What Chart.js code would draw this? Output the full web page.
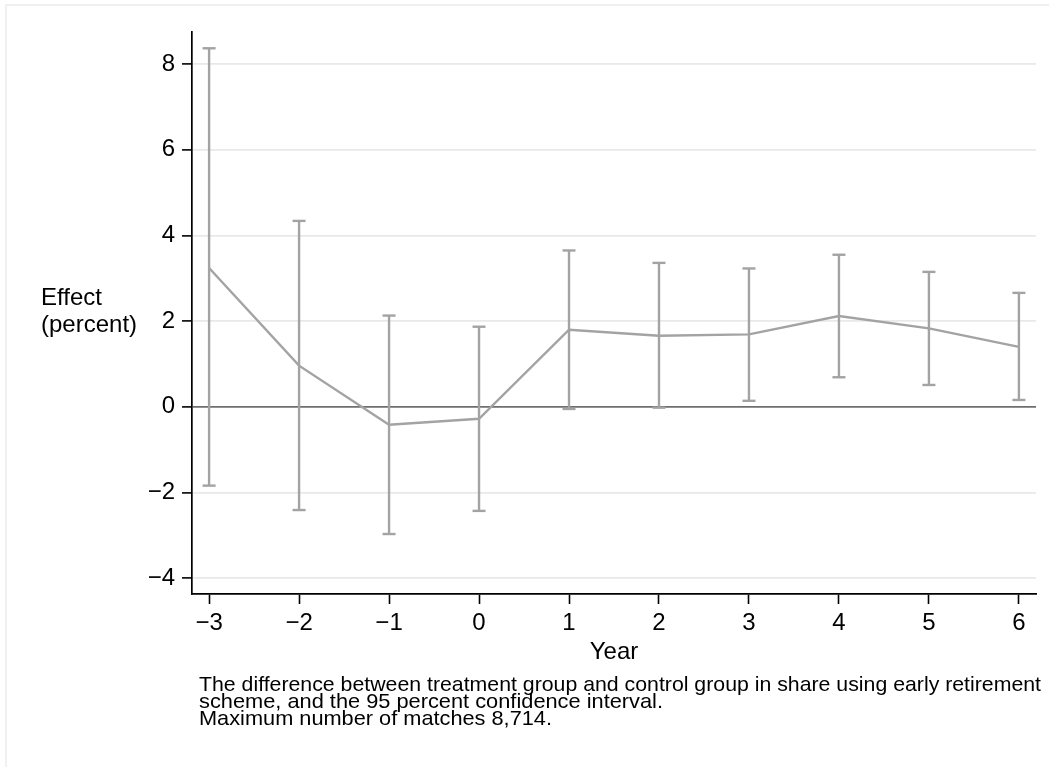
<!DOCTYPE html>
<html>
<head>
<meta charset="utf-8">
<script src="https://cdn.jsdelivr.net/npm/chart.js@4/dist/chart.umd.min.js"></script>
<style>
html,body{margin:0;padding:0;background:#fff;}
canvas{display:block;}
</style>
</head>
<body>
<canvas id="c" width="1049" height="767"></canvas>
<script>
const years = [-3, -2, -1, 0, 1, 2, 3, 4, 5, 6];
const estimate = [3.24, 0.96, -0.42, -0.28, 1.80, 1.66, 1.69, 2.12, 1.83, 1.40];
const upper = [8.37, 4.34, 2.13, 1.87, 3.65, 3.36, 3.23, 3.55, 3.15, 2.66];
const lower = [-1.84, -2.41, -2.97, -2.43, -0.05, -0.02, 0.14, 0.69, 0.51, 0.16];
const xTicks = [-3, -2, -1, 0, 1, 2, 3, 4, 5, 6];
const yTicks = [-4, -2, 0, 2, 4, 6, 8];
const yTitle = ['Effect', '(percent)'];
const xTitle = 'Year';
const caption = [
  'The difference between treatment group and control group in share using early retirement',
  'scheme, and the 95 percent confidence interval.',
  'Maximum number of matches 8,714.'
];

const GREY = '#a3a3a3';
const FONT = "'Liberation Sans', Arial, sans-serif";
const CAPTION_WIDTHS = [842, 464, 353];

const datasets = [{
  data: years.map((x, i) => ({x, y: estimate[i]})),
  showLine: true,
  borderColor: GREY,
  borderWidth: 2.4,
  pointRadius: 0,
  tension: 0
}];
years.forEach((x, i) => {
  datasets.push({
    data: [{x, y: lower[i]}, {x, y: upper[i]}],
    showLine: true,
    borderColor: GREY,
    borderWidth: 2.4,
    pointStyle: 'line',
    pointRadius: 6.5,
    pointBorderColor: GREY,
    pointBorderWidth: 2.4,
    pointBackgroundColor: GREY
  });
});

const minus = v => String(v).replace('-', '\u2212');

const decor = {
  id: 'decor',
  beforeDraw(chart) {
    const ctx = chart.ctx;
    ctx.save();
    ctx.fillStyle = '#fff';
    ctx.fillRect(0, 0, chart.width, chart.height);
    ctx.strokeStyle = '#ebebeb';
    ctx.lineWidth = 1.5;
    ctx.beginPath();
    ctx.moveTo(6, chart.height);
    ctx.lineTo(6, 5);
    ctx.lineTo(chart.width, 5);
    ctx.stroke();
    ctx.restore();
  },
  afterDraw(chart) {
    const ctx = chart.ctx;
    const a = chart.chartArea;
    ctx.save();
    ctx.fillStyle = '#000';
    ctx.font = '24px ' + FONT;
    ctx.textBaseline = 'alphabetic';
    ctx.textAlign = 'left';
    ctx.fillText(yTitle[0], 41, 305);
    ctx.fillText(yTitle[1], 41, 332);
    ctx.textAlign = 'center';
    ctx.fillText(xTitle, (a.left + a.right) / 2, 659);
    // caption
    ctx.textAlign = 'left';
    ctx.font = '21px ' + FONT;
    caption.forEach((t, i) => {
      const w = ctx.measureText(t).width;
      ctx.save();
      ctx.translate(199, 691 + i * 17);
      ctx.scale(CAPTION_WIDTHS[i] / w, 1);
      ctx.fillText(t, 0, 0);
      ctx.restore();
    });
    ctx.restore();
  }
};

new Chart(document.getElementById('c'), {
  type: 'scatter',
  data: {datasets},
  options: {
    responsive: false,
    animation: false,
    devicePixelRatio: 1,
    layout: {padding: {top: 32, right: 13, left: 0, bottom: 0}},
    plugins: {legend: {display: false}, tooltip: {enabled: false}},
    scales: {
      x: {
        type: 'linear',
        min: -3.19,
        max: 6.19,
        afterBuildTicks: s => { s.ticks = xTicks.map(v => ({value: v})); },
        afterFit: s => { s.height = 173; },
        grid: {drawOnChartArea: false, drawTicks: true, tickLength: 10, tickColor: '#000', tickWidth: 1.6},
        border: {display: true, color: '#000', width: 1.7},
        ticks: {color: '#000', font: {family: FONT, size: 24}, padding: 5, maxRotation: 0, callback: v => minus(v)}
      },
      y: {
        type: 'linear',
        min: -4.37,
        max: 8.75,
        afterBuildTicks: s => { s.ticks = yTicks.map(v => ({value: v})); },
        afterFit: s => { s.width = 192; },
        grid: {
          drawOnChartArea: true,
          drawTicks: true,
          tickLength: 10,
          tickColor: '#000',
          tickWidth: 1.6,
          color: c => (c.tick && c.tick.value === 0) ? '#6e6e6e' : '#e9e9e9',
          lineWidth: 1.8
        },
        border: {display: true, color: '#000', width: 1.7},
        ticks: {color: '#000', font: {family: FONT, size: 24}, padding: 7, callback: v => minus(v)}
      }
    }
  },
  plugins: [decor]
});
</script>
</body>
</html>
